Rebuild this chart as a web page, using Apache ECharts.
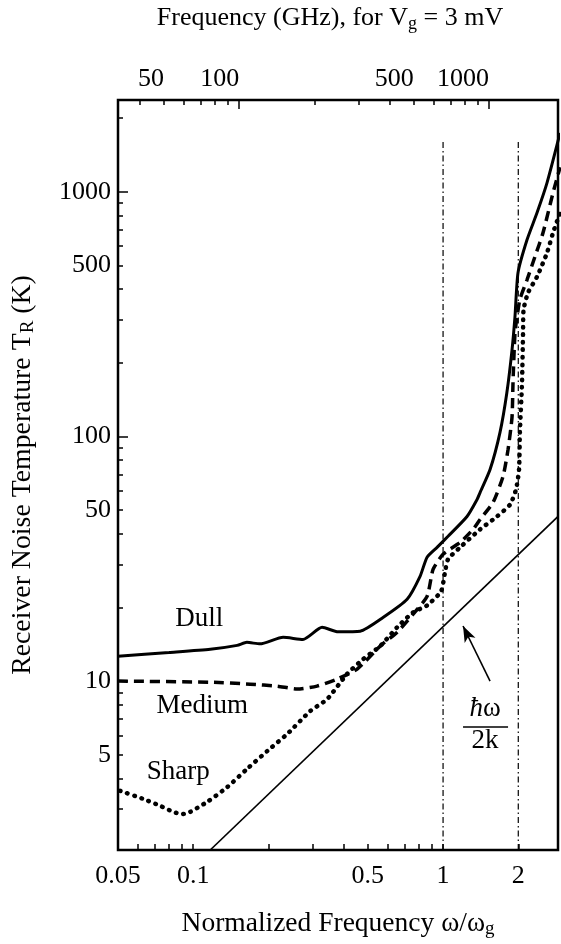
<!DOCTYPE html>
<html><head><meta charset="utf-8">
<script src="https://cdn.jsdelivr.net/npm/echarts@6/dist/echarts.min.js"></script>
<style>html,body{margin:0;padding:0;background:#fff}#c{width:561px;height:944px}</style>
</head><body><div id="c"></div>
<script>
const xRange = [0.05, 2.884];          // normalized frequency ω/ωg
const yRange = [2.04, 2374];           // receiver noise temperature (K)
const ghzPerUnit = 654.6;              // GHz per unit ω/ωg (top axis)

const xLabelValues = [0.05, 0.1, 0.5, 1, 2];
const xLabelTexts = ['0.05', '0.1', '0.5', '1', '2'];
const xMinorTicks = [0.05, 0.06, 0.07, 0.08, 0.09, 0.1, 0.2, 0.3, 0.4, 0.5, 0.6, 0.7, 0.8, 0.9, 1, 2];

const yLabelValues = [5, 10, 50, 100, 500, 1000];
const yLabelTexts = ['5', '10', '50', '100', '500', '1000'];
const yMinorTicks = [3, 4, 5, 6, 7, 8, 9, 10, 20, 30, 40, 50, 60, 70, 80, 90, 100, 200, 300, 400, 500, 600, 700, 800, 900, 1000, 2000];
const yMajorTicks = [10, 100, 1000];

const topLabelValues = [50, 100, 500, 1000];
const topLabelTexts = ['50', '100', '500', '1000'];
const topMinorTicks = [40, 50, 60, 70, 80, 90, 200, 300, 400, 500, 600, 700, 800, 900];
const topMajorTicks = [100, 1000];

const dullRatio = [0.05, 0.08, 0.117, 0.15, 0.164, 0.185, 0.229, 0.275, 0.328, 0.38, 0.466, 0.575, 0.718, 0.809, 0.863, 0.946, 1.047, 1.247, 1.368, 1.406, 1.542, 1.69, 1.80, 1.888, 1.94, 1.995, 2.168, 2.377, 2.606, 2.94];
const dullTemp = [12.65, 13.1, 13.5, 14.0, 14.4, 14.2, 15.1, 14.8, 16.6, 15.9, 16.0, 18.2, 21.6, 26.8, 32.1, 35.2, 39.1, 47.1, 55.3, 59, 73.3, 104, 151, 226, 309, 467, 637, 821, 1088, 1741];

const mediumRatio = [0.05, 0.117, 0.169, 0.217, 0.261, 0.313, 0.377, 0.453, 0.56, 0.655, 0.759, 0.863, 0.912, 1.0, 1.17, 1.318, 1.406, 1.585, 1.738, 1.82, 1.888, 1.905, 1.94, 1.977, 2.03, 2.168, 2.333, 2.512, 2.754, 2.94];
const mediumTemp = [10.0, 9.9, 9.72, 9.54, 9.28, 9.54, 10.2, 11.2, 13.9, 15.85, 18.8, 22.2, 28.6, 33.0, 36.9, 41.7, 45.8, 53.8, 68.7, 88.4, 120, 166, 265, 308, 363, 437, 544, 680, 990, 1260];

const sharpRatio = [0.051, 0.063, 0.0738, 0.0832, 0.0904, 0.0973, 0.1138, 0.137, 0.164, 0.198, 0.238, 0.294, 0.344, 0.413, 0.479, 0.56, 0.655, 0.759, 0.863, 0.982, 1.018, 1.047, 1.17, 1.406, 1.644, 1.854, 1.959, 2.014, 2.03, 2.07, 2.09, 2.10, 2.188, 2.377, 2.606, 2.754, 2.94];
const sharpTemp = [3.56, 3.30, 3.09, 2.92, 2.86, 2.92, 3.21, 3.69, 4.37, 5.18, 6.08, 7.54, 8.45, 10.7, 12.3, 13.9, 16.6, 19.1, 20.4, 23.3, 27.9, 31.5, 35.2, 41.7, 47.1, 52.7, 60.8, 73.3, 104, 166, 266, 330, 387, 450, 563, 680, 821];

const quantumRatio = [0.117, 2.88];
const quantumTemp = [2.04, 47];

const gapLineRatio = [1, 2];
const gapLineTemp = [2.04, 1630];

// ---- helpers ----
const L = Math.log10;
const pairs = (xs, ys) => xs.map((x, i) => [L(x), L(ys[i])]);
const labelFor = (vals, texts) => v => {
  for (let i = 0; i < vals.length; i++) if (Math.abs(L(vals[i]) - v) < 1e-6) return texts[i];
  return '';
};
const FONT = '"Liberation Serif", "DejaVu Serif", serif';
const txt = { color: '#000', fontFamily: FONT, fontSize: 26 };
const richSub = (fs) => ({
  sub: { color: '#000', fontFamily: FONT, fontSize: Math.round(fs * 0.7), padding: [12, 0, 0, 0] }
});

const chart = echarts.init(document.getElementById('c'), null, { renderer: 'canvas' });

const noLine = { show: false, onZero: false };
const baseX = { type: 'value', splitLine: { show: false }, axisLine: noLine };
const baseY = { type: 'value', min: L(yRange[0]), max: L(yRange[1]), splitLine: { show: false }, axisLine: noLine };
const tickStyle = { color: '#000', width: 1.5 };

const option = {
  animation: false,
  backgroundColor: '#fff',
  grid: { left: 118, right: 3, top: 100, bottom: 93, show: true, borderColor: '#000', borderWidth: 2.5, backgroundColor: 'transparent' },
  xAxis: [
    Object.assign({}, baseX, {
      position: 'bottom', min: L(xRange[0]), max: L(xRange[1]),
      name: 'Normalized Frequency ω/ω{sub|g}', nameLocation: 'middle', nameGap: 58,
      nameTextStyle: Object.assign({}, txt, { fontSize: 27.5, rich: richSub(27.5) }),
      axisTick: { inside: true, length: 6, lineStyle: tickStyle, customValues: xMinorTicks.map(L) },
      axisLabel: Object.assign({}, txt, { margin: 13, customValues: xLabelValues.map(L), formatter: labelFor(xLabelValues, xLabelTexts) })
    }),
    Object.assign({}, baseX, {
      position: 'top', min: L(xRange[0] * ghzPerUnit), max: L(xRange[1] * ghzPerUnit),
      name: 'Frequency (GHz), for V{sub|g} = 3 mV', nameLocation: 'middle', nameGap: 67,
      nameTextStyle: Object.assign({}, txt, { padding: [0, 16, 0, 0], rich: richSub(26) }),
      axisTick: { inside: true, length: 5, lineStyle: tickStyle, customValues: topMinorTicks.map(L) },
      axisLabel: Object.assign({}, txt, { margin: 8, align: 'right', padding: [0, 0, 0, 0], customValues: topLabelValues.map(L), formatter: labelFor(topLabelValues, topLabelTexts) })
    }),
    Object.assign({}, baseX, {
      position: 'top', min: L(xRange[0] * ghzPerUnit), max: L(xRange[1] * ghzPerUnit),
      axisTick: { inside: true, length: 9, lineStyle: tickStyle, customValues: topMajorTicks.map(L) },
      axisLabel: { show: false }
    })
  ],
  yAxis: [
    Object.assign({}, baseY, {
      position: 'left',
      name: 'Receiver Noise Temperature T{sub|R} (K)', nameLocation: 'middle', nameGap: 80, nameRotate: 90,
      nameTextStyle: Object.assign({}, txt, { fontSize: 27.8, rich: richSub(27.8) }),
      axisTick: { inside: true, length: 5, lineStyle: tickStyle, customValues: yMinorTicks.map(L) },
      axisLabel: Object.assign({}, txt, { margin: 7, customValues: yLabelValues.map(L), formatter: labelFor(yLabelValues, yLabelTexts) })
    }),
    Object.assign({}, baseY, {
      position: 'left',
      axisTick: { inside: true, length: 10, lineStyle: tickStyle, customValues: yMajorTicks.map(L) },
      axisLabel: { show: false }
    })
  ],
  series: [
    {
      name: 'Dull', type: 'line', data: pairs(dullRatio, dullTemp), symbol: 'none',
      smooth: 0.2, lineStyle: { color: '#000', width: 3 }, z: 5
    },
    {
      name: 'Medium', type: 'line', data: pairs(mediumRatio, mediumTemp), symbol: 'none',
      smooth: 0.2, lineStyle: { color: '#000', width: 3.5, type: [10, 6] }, z: 4
    },
    {
      name: 'Sharp', type: 'line', data: pairs(sharpRatio, sharpTemp), symbol: 'none',
      smooth: 0.2, lineStyle: { color: '#000', width: 4.5, type: [0.5, 7], cap: 'round' }, z: 3
    },
    {
      name: 'quantum', type: 'line', data: pairs(quantumRatio, quantumTemp), symbol: 'none',
      lineStyle: { color: '#000', width: 1.7 }, z: 2,
      markLine: {
        silent: true, animation: false, label: { show: false },
        lineStyle: { color: '#000', width: 1.6, type: 'solid' },
        data: [
          [{ coord: [L(1.542), L(10)], symbol: 'none' }, { coord: [L(1.202), L(16.8)], symbol: 'arrow', symbolSize: [9, 16] }],
          [{ coord: [L(1.202), L(6.49)], symbol: 'none' }, { coord: [L(1.82), L(6.49)], symbol: 'none' }]
        ]
      },
      markPoint: {
        silent: true, animation: false, symbol: 'circle', symbolSize: 0,
        label: Object.assign({}, txt, { fontSize: 27, show: true, position: 'inside', formatter: p => p.name, rich: { h: { fontStyle: 'italic', fontFamily: FONT, fontSize: 27, color: '#000' } } }),
        data: [
          { name: 'Dull', coord: [L(0.1057), L(17.9)] },
          { name: 'Medium', coord: [L(0.1086), L(7.9)] },
          { name: 'Sharp', coord: [L(0.0871), L(4.25)] },
          { name: '{h|ħ}ω', coord: [L(1.472), L(7.69)] },
          { name: '2k', coord: [L(1.472), L(5.69)] }
        ]
      }
    },
    {
      name: 'gap1', type: 'line', data: pairs([gapLineRatio[0], gapLineRatio[0]], gapLineTemp), symbol: 'none',
      lineStyle: { color: '#000', width: 1.2, type: [6, 3, 1.5, 3] }, z: 1
    },
    {
      name: 'gap2', type: 'line', data: pairs([gapLineRatio[1], gapLineRatio[1]], gapLineTemp), symbol: 'none',
      lineStyle: { color: '#000', width: 1.2, type: [6, 3, 1.5, 3] }, z: 1
    }
  ]
};
chart.setOption(option);
</script></body></html>
